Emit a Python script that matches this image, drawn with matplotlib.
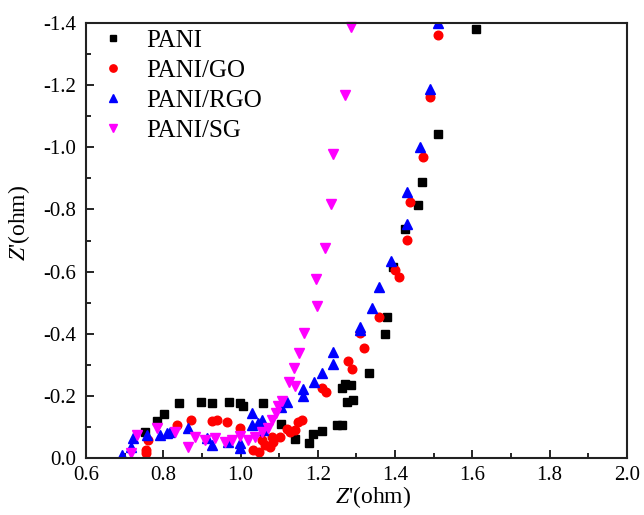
import matplotlib
matplotlib.use("Agg")
import matplotlib.pyplot as plt
from matplotlib.ticker import MultipleLocator, FormatStrFormatter

plt.rcParams['font.family'] = ['Liberation Serif', 'DejaVu Serif']
plt.rcParams['mathtext.fontset'] = 'custom'
plt.rcParams['mathtext.rm'] = 'Liberation Serif'
plt.rcParams['mathtext.it'] = 'Liberation Serif:italic'

pani_x = [0.753, 0.784, 0.802, 0.841, 0.898, 0.926, 0.970, 0.999, 1.006, 1.058, 1.105, 1.141,
          1.177, 1.187, 1.211, 1.250, 1.262, 1.275, 1.291, 1.262, 1.270, 1.286, 1.332, 1.374,
          1.379, 1.395, 1.426, 1.459, 1.470, 1.511, 1.609]
pani_y = [-0.084, -0.119, -0.142, -0.177, -0.180, -0.177, -0.180, -0.177, -0.167, -0.177, -0.109, -0.061,
          -0.048, -0.077, -0.087, -0.106, -0.106, -0.180, -0.187, -0.225, -0.238, -0.235, -0.274, -0.399,
          -0.454, -0.615, -0.737, -0.814, -0.888, -1.043, -1.381]

go_x = [0.755, 0.755, 0.760, 0.835, 0.872, 0.926, 0.939, 0.965, 0.999, 1.032, 1.048, 1.055,
        1.063, 1.076, 1.084, 1.081, 1.102, 1.120, 1.128, 1.141, 1.149, 1.159, 1.211, 1.221,
        1.278, 1.288, 1.309, 1.319, 1.358, 1.400, 1.410, 1.431, 1.439, 1.472, 1.490, 1.511]
go_y = [-0.016, -0.026, -0.058, -0.106, -0.122, -0.119, -0.122, -0.116, -0.097, -0.026, -0.019, -0.058,
        -0.042, -0.035, -0.051, -0.068, -0.068, -0.093, -0.084, -0.090, -0.116, -0.122, -0.225, -0.212,
        -0.312, -0.286, -0.402, -0.354, -0.454, -0.605, -0.583, -0.702, -0.824, -0.969, -1.162, -1.361]

rgo_x = [0.693, 0.716, 0.722, 0.758, 0.792, 0.810, 0.817, 0.864, 0.913, 0.926, 0.967, 0.999,
         0.999, 1.030, 1.030, 1.045, 1.055, 1.058, 1.105, 1.120, 1.162, 1.162, 1.190, 1.211,
         1.239, 1.239, 1.309, 1.309, 1.340, 1.358, 1.389, 1.431, 1.431, 1.464, 1.490, 1.511]
rgo_y = [-0.010, -0.035, -0.064, -0.074, -0.074, -0.080, -0.084, -0.097, -0.064, -0.042, -0.051, -0.048,
         -0.032, -0.145, -0.106, -0.113, -0.122, -0.090, -0.164, -0.180, -0.200, -0.222, -0.245, -0.274,
         -0.303, -0.341, -0.412, -0.422, -0.483, -0.550, -0.634, -0.753, -0.856, -1.001, -1.188, -1.400]

sg_x = [0.716, 0.732, 0.784, 0.830, 0.864, 0.882, 0.908, 0.934, 0.960, 0.978, 0.999, 1.019,
        1.037, 1.055, 1.071, 1.081, 1.092, 1.097, 1.107, 1.125, 1.141, 1.138, 1.151, 1.164,
        1.198, 1.195, 1.219, 1.234, 1.239, 1.270, 1.286]
sg_y = [-0.016, -0.074, -0.097, -0.084, -0.035, -0.068, -0.058, -0.064, -0.051, -0.058, -0.071, -0.058,
        -0.068, -0.084, -0.097, -0.122, -0.145, -0.167, -0.183, -0.245, -0.232, -0.290, -0.338, -0.402,
        -0.489, -0.576, -0.676, -0.817, -0.978, -1.168, -1.387]

fig = plt.figure(figsize=(6.44, 5.15), dpi=100)
ax = fig.add_axes([0.1335, 0.1107, 0.840, 0.8446])

ax.plot(pani_x, pani_y, 's', color='black', ms=5.4, mec='black', label='PANI', clip_on=False)
ax.plot(go_x, go_y, 'o', color='red', ms=6.2, mec='red', label='PANI/GO', clip_on=False)
ax.plot(rgo_x, rgo_y, '^', color='blue', ms=6.8, mec='blue', label='PANI/RGO', clip_on=True)
ax.plot(sg_x, sg_y, 'v', color='magenta', ms=6.8, mec='magenta', label='PANI/SG', clip_on=False)

ax.set_xlim(0.6, 2.0)
ax.set_ylim(0.0, -1.4)
ax.xaxis.set_major_locator(MultipleLocator(0.2))
ax.xaxis.set_minor_locator(MultipleLocator(0.1))
ax.yaxis.set_major_locator(MultipleLocator(0.2))
ax.yaxis.set_minor_locator(MultipleLocator(0.1))
ax.xaxis.set_major_formatter(FormatStrFormatter('%.1f'))
ax.yaxis.set_major_formatter(FormatStrFormatter('%.1f'))
ax.tick_params(which='both', direction='in', top=False, right=False, labelsize=15, width=1.2)
ax.tick_params(which='major', length=6)
ax.tick_params(which='minor', length=3.5)
ax.tick_params(axis='x', which='major', pad=6)
ax.tick_params(axis='y', which='major', pad=7)
for s in ax.spines.values():
    s.set_linewidth(1.5)
    s.set_color('#222222')

ax.set_xlabel("$Z$'(ohm)", fontsize=17)
ax.set_ylabel("$Z$'(ohm)", fontsize=17)
ax.xaxis.set_label_coords(0.53, -0.06)
ax.yaxis.set_label_coords(-0.10, 0.54)

leg = ax.legend(loc='upper left', frameon=False, fontsize=18, handletextpad=0.48,
                borderaxespad=0.0, borderpad=0.25, labelspacing=0.3, handlelength=1.68,
                markerscale=0.85, bbox_to_anchor=(0.0, 1.0))

fig.savefig('out.png', dpi=100)
